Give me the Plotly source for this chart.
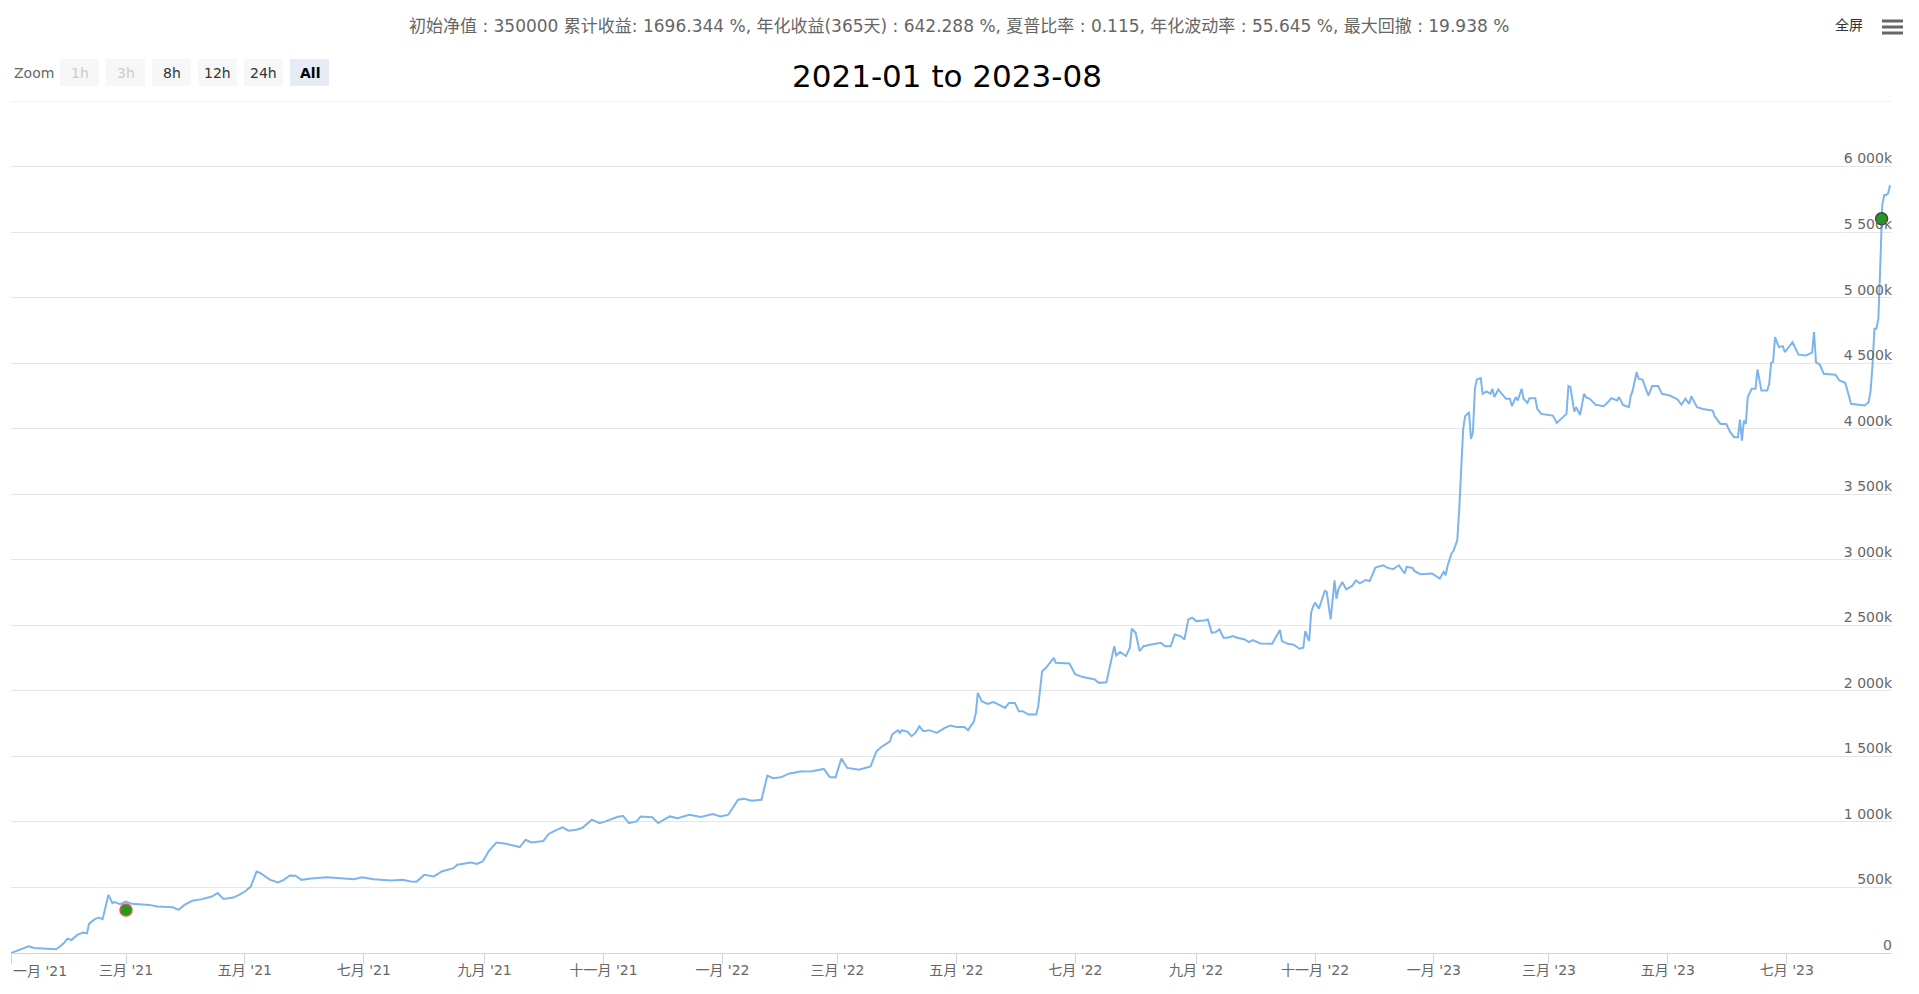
import pandas as pd
import plotly.graph_objs as go

# cumulative pnl curve (day offset from 2021-01-01, value in k)
day_offsets = [
    0, 5, 9, 12, 21, 23, 25, 27, 29, 31, 34, 37, 39, 40, 43, 45, 47, 48, 50, 52,
    53, 56, 59, 62, 65, 71, 75, 80, 83, 86, 89, 93, 98, 103, 106, 109, 114, 117, 120, 123,
    126, 128, 133, 137, 140, 143, 146, 149, 154, 162, 171, 176, 180, 186, 195, 201, 205, 208, 212, 217,
    221, 227, 229, 233, 236, 239, 242, 245, 249, 254, 258, 261, 264, 267, 273, 276, 280, 283, 286, 290,
    293, 298, 302, 305, 311, 314, 317, 321, 323, 329, 332, 338, 342, 348, 354, 360, 364, 368, 373, 376,
    380, 385, 388, 391, 395, 399, 405, 411, 417, 420, 423, 426, 429, 435, 441, 444, 447, 451, 452, 455,
    456, 457, 460, 462, 464, 466, 468, 471, 475, 479, 482, 485, 489, 491, 494, 495, 496, 498, 501, 504,
    507, 510, 512, 515, 517, 519, 522, 526, 527, 529, 531, 533, 535, 536, 543, 546, 550, 556, 558, 562,
    564, 566, 567, 569, 572, 574, 575, 577, 579, 581, 585, 590, 592, 595, 597, 600, 602, 604, 606, 608,
    612, 614, 616, 618, 620, 622, 624, 627, 629, 633, 635, 637, 641, 647, 649, 651, 652, 655, 658, 661,
    663, 664, 666, 667, 668, 669, 671, 672, 674, 675, 677, 679, 680, 681, 683, 685, 688, 690, 692, 695,
    697, 700, 702, 704, 706, 709, 712, 713, 715, 716, 719, 720, 723, 729, 731, 733, 735, 736, 737, 739,
    740, 742, 743, 744, 745, 746, 748, 749, 750, 751, 752, 754, 755, 757, 759, 760, 761, 763, 765, 767,
    769, 770, 772, 773, 775, 776, 778, 779, 782, 783, 785, 788, 791, 793, 795, 798, 799, 800, 802, 803,
    805, 807, 808, 810, 813, 817, 819, 821, 824, 825, 827, 830, 831, 832, 834, 835, 837, 840, 842, 845,
    847, 851, 855, 857, 859, 861, 862, 865, 868, 873, 874, 877, 880, 882, 884, 886, 887, 888, 889, 890,
    891, 893, 895, 896, 898, 901, 902, 903, 904, 905, 907, 909, 910, 912, 914, 917, 921, 924, 925, 926,
    928, 930, 936, 938, 941, 944, 948, 951, 953, 954, 955, 956, 957, 958, 959, 960, 961, 962, 963, 964,
]
pnl_k = [
    0, 28, 51, 38, 33, 28, 48, 74, 110, 99, 138, 156, 150, 222, 258, 270, 258, 329, 444, 380,
    388, 372, 393, 375, 372, 367, 354, 349, 349, 329, 367, 398, 411, 431, 457, 413, 423, 444, 469, 507,
    622, 609, 558, 538, 558, 591, 589, 558, 568, 578, 568, 563, 578, 563, 553, 558, 545, 543, 596, 584,
    622, 647, 673, 686, 690, 680, 698, 775, 843, 833, 820, 808, 864, 843, 854, 910, 940, 958, 933, 940,
    953, 1017, 991, 1004, 1037, 1047, 991, 1004, 1042, 1035, 991, 1042, 1029, 1055, 1037, 1060, 1042, 1055, 1169, 1177,
    1162, 1169, 1353, 1333, 1340, 1368, 1384, 1386, 1404, 1343, 1340, 1483, 1412, 1399, 1424, 1539, 1577, 1615, 1667, 1700,
    1679, 1700, 1687, 1654, 1679, 1730, 1692, 1700, 1679, 1717, 1735, 1725, 1725, 1700, 1768, 1832, 1985, 1921, 1901, 1914,
    1893, 1870, 1908, 1908, 1845, 1845, 1819, 1819, 1883, 2150, 2176, 2214, 2252, 2214, 2209, 2125, 2105, 2087, 2061, 2066,
    2214, 2341, 2270, 2296, 2265, 2329, 2474, 2443, 2303, 2341, 2354, 2367, 2341, 2341, 2430, 2418, 2392, 2545, 2558, 2532,
    2537, 2545, 2443, 2448, 2469, 2405, 2405, 2418, 2405, 2392, 2372, 2387, 2362, 2359, 2413, 2464, 2380, 2359, 2352, 2321,
    2329, 2456, 2380, 2596, 2642, 2673, 2627, 2673, 2762, 2754, 2545, 2843, 2703, 2775, 2830, 2775, 2800, 2843, 2820, 2846,
    2838, 2940, 2948, 2958, 2940, 2928, 2958, 2938, 2895, 2946, 2938, 2915, 2890, 2895, 2877, 2857, 2908, 2882, 2954, 3048,
    3066, 3150, 3392, 3698, 3998, 4095, 4126, 3922, 3973, 4304, 4375, 4386, 4266, 4284, 4266, 4304, 4241, 4299, 4266, 4228,
    4228, 4172, 4241, 4215, 4304, 4228, 4197, 4233, 4233, 4151, 4113, 4105, 4100, 4044, 4070, 4113, 4325, 4317, 4131, 4164,
    4105, 4266, 4241, 4228, 4182, 4172, 4197, 4233, 4215, 4241, 4182, 4164, 4253, 4292, 4432, 4381, 4375, 4253, 4325, 4325,
    4266, 4253, 4223, 4182, 4228, 4190, 4248, 4164, 4151, 4138, 4095, 4036, 4036, 3973, 3935, 3935, 4070, 3909, 4062, 4036,
    4241, 4304, 4304, 4452, 4292, 4292, 4343, 4503, 4508, 4699, 4623, 4630, 4585, 4623, 4661, 4565, 4559, 4580, 4738, 4508,
    4488, 4419, 4412, 4368, 4350, 4190, 4182, 4177, 4202, 4284, 4483, 4763, 4763, 4839, 5247, 5706, 5782, 5782, 5795, 5858,
]

# the two flag markers
flag_dates = ["2021-03-01", "2023-08-18 16:00"]
flag_values = [328000, 5601000]
flag_borders = ["#f0504a", "#444444"]

month_ticks = pd.date_range("2021-01-01", "2023-07-01", freq="2MS")
month_names = {1: "一月", 3: "三月", 5: "五月", 7: "七月", 9: "九月", 11: "十一月"}
y_ticks = list(range(0, 6500001, 500000))

header = ("初始净值 : 350000 累计收益: 1696.344 %, 年化收益(365天) : 642.288 %, "
          "夏普比率 : 0.115, 年化波动率 : 55.645 %, 最大回撤 : 19.938 %")
title = "2021-01 to 2023-08"
zoom_buttons = ["1h", "3h", "8h", "12h", "24h", "All"]

FONT = "DejaVu Sans, Noto Sans CJK SC, sans-serif"

# plot box in page pixels
L, R, T, B = 11, 1892, 101, 953


def px(x):
    return (x - L) / (R - L)


def py(y):
    return (B - y) / (B - T)


dates = pd.Timestamp("2021-01-01") + pd.to_timedelta(day_offsets, unit="D")
values = [v * 1000 for v in pnl_k]

fig = go.Figure()
fig.add_trace(go.Scatter(
    x=dates, y=values, mode="lines",
    line=dict(color="#7cb5ec", width=2), hoverinfo="skip", showlegend=False
))
for d, v, c in zip(flag_dates, flag_values, flag_borders):
    fig.add_trace(go.Scatter(
        x=[d], y=[v], mode="markers",
        marker=dict(size=12, color="#1aa01a", line=dict(color=c, width=1.5)),
        showlegend=False, hoverinfo="skip"
    ))

tick_text = [f"{month_names[t.month]} '{t.strftime('%y')}" for t in month_ticks]
first_label = tick_text[0]
tick_text[0] = ""


def fmt_k(v):
    if v == 0:
        return "0"
    k = v // 1000
    return f"{k:,}k".replace(",", " ")


y_text = [fmt_k(v) for v in y_ticks]
y_text[-1] = ""

fig.update_layout(
    width=1919, height=994,
    margin=dict(l=L, r=1919 - R, t=T, b=994 - B),
    plot_bgcolor="white", paper_bgcolor="white",
    font=dict(family=FONT, color="#666666"),
    xaxis=dict(
        type="date", range=["2021-01-01", "2023-08-24"],
        tickvals=month_ticks, ticktext=tick_text,
        ticks="outside", ticklen=10, tickcolor="#ccd6eb",
        ticklabelstandoff=-6,
        showline=True, linecolor="#ccd6eb", linewidth=1,
        showgrid=False, zeroline=False,
        tickfont=dict(size=14, color="#666666"),
    ),
    yaxis=dict(
        side="right", range=[0, 6500000],
        tickvals=y_ticks, ticktext=y_text,
        ticklabelposition="inside", ticklabelshift=-8, ticklabelstandoff=-3, ticks="",
        showgrid=True, gridcolor="#e6e6e6", zeroline=False, showline=False,
        tickfont=dict(size=14, color="#666666"),
    ),
)

annotations = [
    dict(text=first_label, x=px(L), y=py(971), xanchor="left", yanchor="middle",
         font=dict(size=14, color="#666666")),
    dict(text=header, x=px(959), y=py(26), xanchor="center", yanchor="middle",
         font=dict(size=17, color="#666666")),
    dict(text=title, x=px(947), y=py(76), xanchor="center", yanchor="middle",
         font=dict(size=31, color="#000000")),
    dict(text="Zoom", x=px(12), y=py(73), xanchor="left", yanchor="middle",
         font=dict(size=14, color="#666666")),
    dict(text="全屏", x=px(1849), y=py(25), xanchor="center", yanchor="middle",
         font=dict(size=14, color="#333333")),
]

# top gridline (6 500k) sits on the plot edge
shapes = [dict(type="line", xref="paper", yref="y", x0=0, x1=1,
               y0=y_ticks[-1], y1=y_ticks[-1], line=dict(color="#e6e6e6", width=1), layer="below")]

btn_left = [60, 106, 152, 198, 244, 290]
for i, lab in enumerate(zoom_buttons):
    x0 = btn_left[i]
    selected = lab == "All"
    disabled = lab in ("1h", "3h")
    shapes.append(dict(
        type="rect", xref="paper", yref="paper",
        x0=px(x0), x1=px(x0 + 39), y0=py(86), y1=py(59),
        fillcolor="#e6ebf5" if selected else "#f7f7f7", line=dict(width=0), layer="below"
    ))
    annotations.append(dict(
        text=f"<b>{lab}</b>" if selected else lab,
        x=px(x0 + 19.5), y=py(72.5), xanchor="center", yanchor="middle",
        font=dict(size=14, color="#cccccc" if disabled else ("#000000" if selected else "#333333"))
    ))

# menu icon
for yb in (19.5, 25.5, 31.5):
    shapes.append(dict(
        type="rect", xref="paper", yref="paper",
        x0=px(1882), x1=px(1903), y0=py(yb + 3), y1=py(yb),
        fillcolor="#666666", line=dict(width=0)
    ))

for a in annotations:
    a.update(xref="paper", yref="paper", showarrow=False)

fig.update_layout(annotations=annotations, shapes=shapes)

# page body margin would push the figure 8px off the corner
fig.write_html("out.html", config={"displayModeBar": False},
               post_script="document.body.style.margin='0';")
